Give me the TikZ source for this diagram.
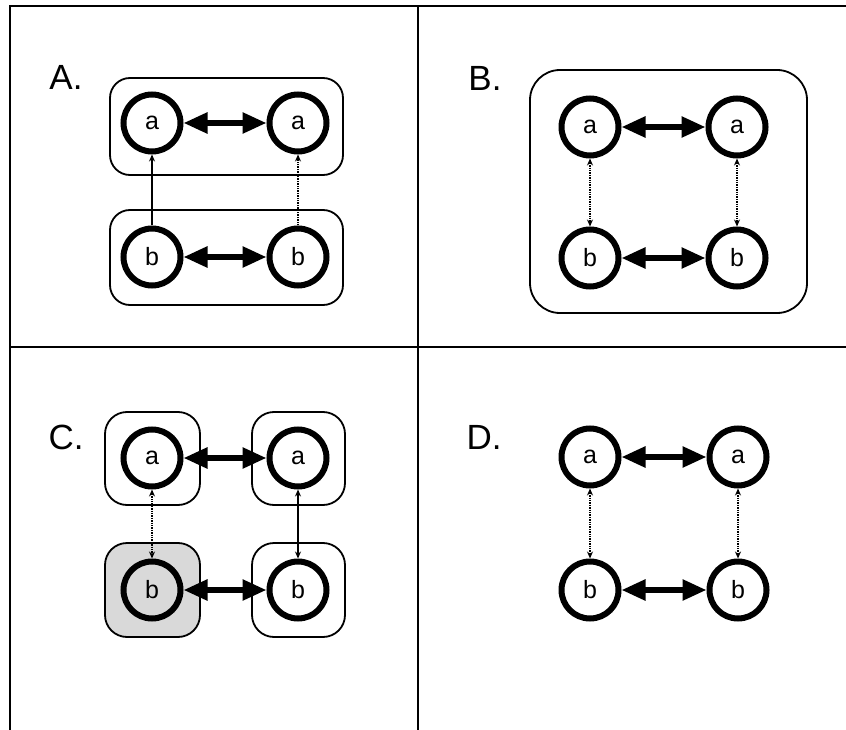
\documentclass[tikz,border=0pt]{standalone}
\usepackage{fontspec}
\setmainfont{Liberation Sans}
\usetikzlibrary{arrows.meta}
\tikzset{
  st/.style={circle, draw, line width=6pt, minimum size=57pt, inner sep=0pt, fill=white, font=\fontsize{25}{28}\selectfont},
  bigarrow/.style={line width=5.5pt, {Triangle[length=24pt,width=20pt]}-{Triangle[length=24pt,width=20pt]}},
  vup/.style={line width=1.4pt, -{Stealth[length=7pt,width=6pt]}},
  vboth/.style={line width=1.4pt, {Stealth[length=7pt,width=6pt]}-{Stealth[length=7pt,width=6pt]}},
  dot/.style={densely dotted},
  groupbox/.style={line width=1.8pt},
  panellabel/.style={font=\fontsize{35}{40}\selectfont, inner sep=0pt},
  frame/.style={line width=2.5pt}
}
\begin{document}
\begin{tikzpicture}[x=1pt,y=-1pt]
\useasboundingbox (0,0) rectangle (846,730);
% frame
\draw[frame] (10,730) -- (10,6) -- (846,6);
\draw[frame] (10,347) -- (846,347);
\draw[frame] (418,6) -- (418,730);

% ---------- Panel A ----------
\node[panellabel] (labA) at (66,77) {A.};
\draw[groupbox, rounded corners=20pt] (110,78) rectangle (343,175);
\draw[groupbox, rounded corners=20pt] (110,210) rectangle (343,305);
\node[st] (Aa1) at (152,123) {a};
\node[st] (Aa2) at (298,123) {a};
\node[st] (Ab1) at (152,257) {b};
\node[st] (Ab2) at (298,257) {b};
\draw[bigarrow] (Aa1) -- (Aa2);
\draw[bigarrow] (Ab1) -- (Ab2);
\draw[vup] (Ab1) -- (Aa1);
\draw[vup, dot] (Ab2) -- (Aa2);

% ---------- Panel B ----------
\node[panellabel] (labB) at (485,78) {B.};
\draw[groupbox, rounded corners=30pt] (530,70) rectangle (807,313);
\node[st] (Ba1) at (590,127) {a};
\node[st] (Ba2) at (737,127) {a};
\node[st] (Bb1) at (590,258) {b};
\node[st] (Bb2) at (737,258) {b};
\draw[bigarrow] (Ba1) -- (Ba2);
\draw[bigarrow] (Bb1) -- (Bb2);
\draw[vboth, dot] (Ba1) -- (Bb1);
\draw[vboth, dot] (Ba2) -- (Bb2);

% ---------- Panel C ----------
\node[panellabel] (labC) at (66,437) {C.};
\draw[groupbox, rounded corners=22pt] (105,412) rectangle (200,505);
\draw[groupbox, rounded corners=22pt] (252,412) rectangle (345,505);
\draw[groupbox, rounded corners=22pt, fill=gray!30] (105,543) rectangle (200,637);
\draw[groupbox, rounded corners=22pt] (252,543) rectangle (345,637);
\node[st] (Ca1) at (152,458) {a};
\node[st] (Ca2) at (298,458) {a};
\node[st, fill=gray!30] (Cb1) at (152,590) {b};
\node[st] (Cb2) at (298,590) {b};
\draw[bigarrow] (Ca1) -- (Ca2);
\draw[bigarrow] (Cb1) -- (Cb2);
\draw[vboth, dot] (Ca1) -- (Cb1);
\draw[vboth] (Ca2) -- (Cb2);

% ---------- Panel D ----------
\node[panellabel] (labD) at (484,437) {D.};
\node[st] (Da1) at (590,457) {a};
\node[st] (Da2) at (738,457) {a};
\node[st] (Db1) at (590,590) {b};
\node[st] (Db2) at (738,590) {b};
\draw[bigarrow] (Da1) -- (Da2);
\draw[bigarrow] (Db1) -- (Db2);
\draw[vboth, dot] (Da1) -- (Db1);
\draw[vboth, dot] (Da2) -- (Db2);
\end{tikzpicture}
\end{document}
